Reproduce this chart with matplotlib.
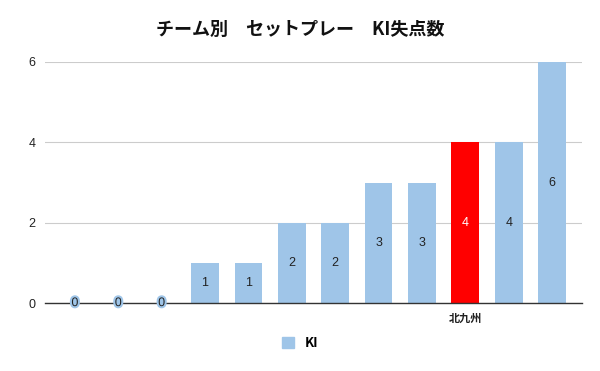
import matplotlib
matplotlib.use("Agg")
import matplotlib.pyplot as plt
import matplotlib.patheffects as pe

plt.rcParams['font.family'] = ['Noto Sans CJK JP', 'DejaVu Sans']

# data (teams sorted by goals conceded)
teams = ['', '', '', '', '', '', '', '', '', '北九州', '', '']
ki_conceded = [0, 0, 0, 1, 1, 2, 2, 3, 3, 4, 4, 6]
highlight = '北九州'
y_ticks = [0, 2, 4, 6]

base_color = '#9fc5e8'
hi_color = '#ff0000'
num_font = ['Liberation Sans', 'DejaVu Sans']


def main():
    fig = plt.figure(figsize=(6, 3.71), dpi=100)
    ax = fig.add_axes([0.075, 0.183, 0.895, 0.65])

    xs = list(range(len(ki_conceded)))
    colors = [hi_color if t == highlight else base_color for t in teams]
    bars = ax.bar(xs, ki_conceded, width=0.64, color=colors, label='KI', zorder=2)

    # value labels in the middle of each bar
    for x, v, t in zip(xs, ki_conceded, teams):
        if v == 0:
            ax.text(x, 0, str(v), ha='center', va='center', fontsize=9,
                    family=num_font, color='#222222', zorder=4,
                    path_effects=[pe.withStroke(linewidth=3, foreground=base_color)])
        else:
            c = 'white' if t == highlight else '#222222'
            ax.text(x, v / 2, str(v), ha='center', va='center', fontsize=9,
                    family=num_font, color=c, zorder=4)

    ax.set_xlim(-0.69, len(xs) - 1 + 0.69)
    ax.set_ylim(0, 6)
    ax.set_yticks(y_ticks)
    ax.set_yticklabels([str(v) for v in y_ticks], family=num_font)
    ax.set_xticks(xs)
    ax.set_xticklabels(teams, fontsize=8, fontweight='bold', color='#222222')
    ax.tick_params(axis='both', length=0)
    ax.tick_params(axis='y', labelsize=9, labelcolor='#222222', pad=7)
    ax.tick_params(axis='x', pad=6)

    ax.grid(axis='y', color='#cccccc', linewidth=0.8, zorder=0)
    for s in ['top', 'right', 'left']:
        ax.spines[s].set_visible(False)
    ax.spines['bottom'].set_color('#333333')
    ax.spines['bottom'].set_linewidth(1)
    ax.spines['bottom'].set_zorder(3)

    fig.suptitle('チーム別　セットプレー　KI失点数', x=0.5, y=0.945,
                 fontsize=13, fontweight='bold', color='#111111')

    leg = ax.legend(handles=[bars[0]], labels=['KI'], loc='center',
                    bbox_to_anchor=(0.5, 0.075), bbox_transform=fig.transFigure,
                    frameon=False, handlelength=0.9, handleheight=0.9,
                    prop={'weight': 'bold', 'size': 9.5})
    leg.legend_handles[0].set_color(base_color)

    fig.savefig('out.png', dpi=100)


if __name__ == "__main__":
    main()
